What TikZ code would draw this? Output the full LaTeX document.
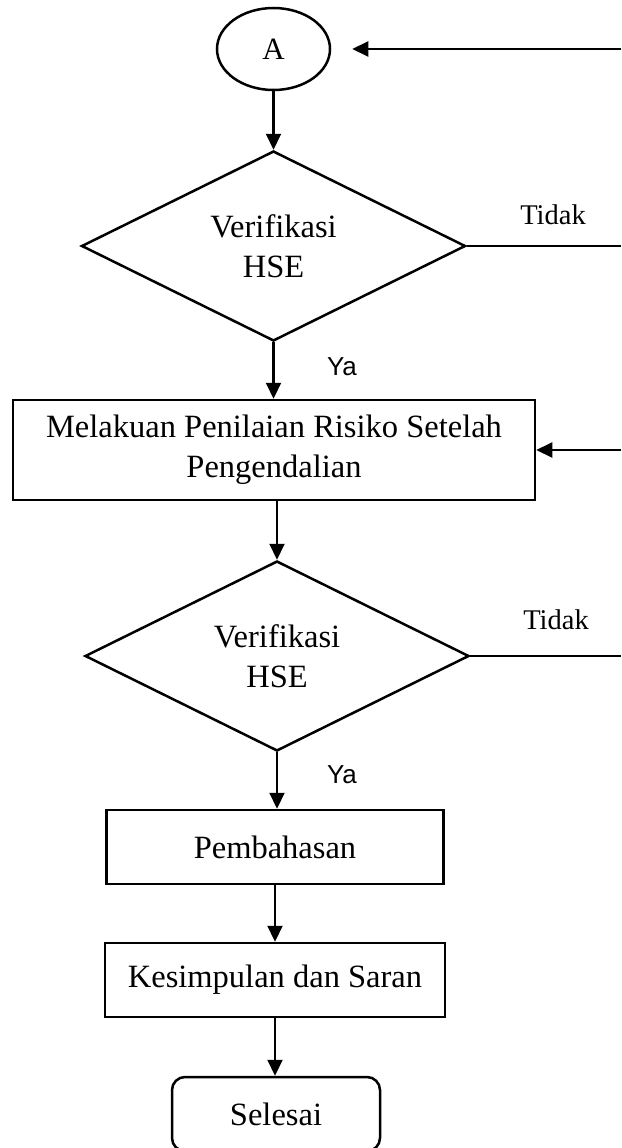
\documentclass[tikz,border=0pt]{standalone}
\usepackage{fontspec}
\setmainfont{Liberation Serif}
\newfontfamily\arialfont{Liberation Sans}
\usetikzlibrary{shapes.geometric, arrows.meta}
\begin{document}
\begin{tikzpicture}[x=1pt,y=-1pt,
  shapeline/.style={draw=black, line width=2.5pt},
  conn/.style={draw=black, line width=2.1pt},
  arr/.style={conn, -{Triangle[length=16pt,width=15pt]}},
  boxnode/.style={shapeline, rectangle, inner sep=0pt, align=center, font=\fontsize{32.5}{40}\selectfont},
  startnode/.style={shapeline, ellipse, inner sep=0pt, minimum width=113pt, minimum height=82pt, font=\fontsize{31}{36}\selectfont},
  endnode/.style={boxnode, rounded corners=13pt},
  decision/.style={shapeline, diamond, inner sep=0pt, align=center, minimum width=384pt, minimum height=190pt, font=\fontsize{32.5}{40}\selectfont},
  lbl/.style={font=\fontsize{28.5}{32}\selectfont, inner sep=0pt},
  yalbl/.style={font=\arialfont\fontsize{26}{30}\selectfont, inner sep=0pt}
]
\useasboundingbox (0,0) rectangle (621,1148);

\node[startnode] (A) at (273.5,49) {A};
\node[decision] (d1) at (273.5,246) {Verifikasi\\HSE};
\node[boxnode, minimum width=522pt, minimum height=100pt] (b1) at (274,450) {Melakuan Penilaian Risiko Setelah\\Pengendalian};
\node[decision] (d2) at (277,656) {Verifikasi\\HSE};
\node[boxnode, minimum width=337pt, minimum height=74pt] (pb) at (275,847) {Pembahasan};
\node[boxnode, minimum width=340pt, minimum height=74pt] (ks) at (275,980) {Kesimpulan dan Saran};
\node[endnode, minimum width=208pt, minimum height=74pt] (sl) at (276,1114) {Selesai};

\coordinate (r1) at (621,49);
\coordinate (r2) at (621,246);
\coordinate (r3) at (621,450);
\coordinate (r4) at (621,656);

\node[lbl] (t1) at (553,215) {Tidak};
\node[lbl] (t2) at (556,620) {Tidak};
\node[yalbl] (y1) at (342,367) {Ya};
\node[yalbl] (y2) at (342,775) {Ya};

\draw[arr, shorten >=21pt] (r1) -- (A.east);
\draw[arr] (A.south) -- (d1.north);
\draw[conn] (d1.east) -- (r2);
\draw[arr] (d1.south) -- (d1.south |- b1.north);
\draw[arr] (r3) -- (b1.east);
\draw[arr] (b1.south -| d2.north) -- (d2.north);
\draw[conn] (d2.east) -- (r4);
\draw[arr] (d2.south) -- (d2.south |- pb.north);
\draw[arr] (pb.south) -- (pb.south |- ks.north);
\draw[arr] (ks.south) -- (ks.south |- sl.north);
\end{tikzpicture}
\end{document}
